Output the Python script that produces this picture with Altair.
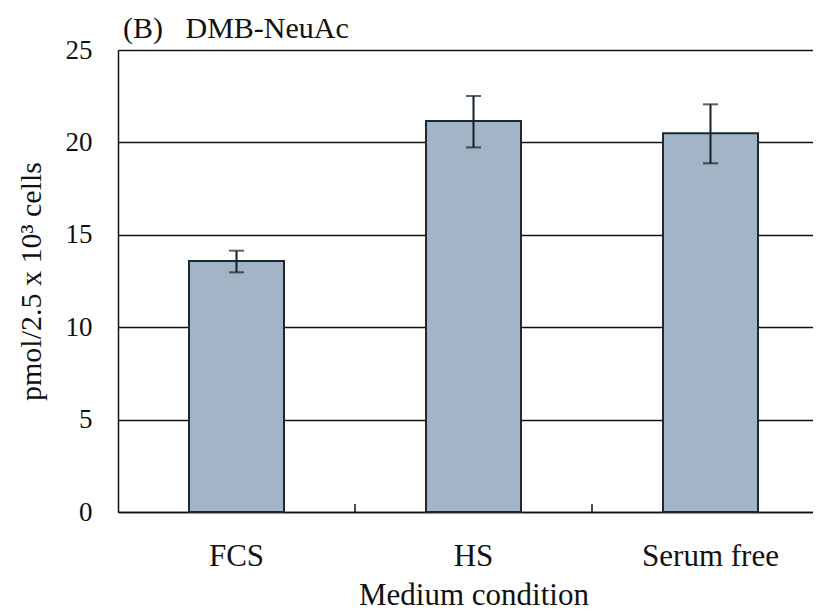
import altair as alt
import pandas as pd

categories = ["FCS", "HS", "Serum free"]
values = [13.58, 21.16, 20.49]
err_low = [12.97, 19.73, 18.87]
err_high = [14.14, 22.51, 22.06]

df = pd.DataFrame({"cat": categories, "val": values, "lo": err_low, "hi": err_high})
df_ticks = pd.DataFrame({"cat": categories[:-1]})

FONT = "Liberation Serif"
xscale = alt.Scale(domain=categories, range=[0, 711], paddingInner=0.6, paddingOuter=0.3)
yscale = alt.Scale(domain=[0, 25], nice=False)

x_enc = alt.X("cat:N", scale=xscale, sort=categories,
              axis=alt.Axis(title="Medium condition", labelAngle=0, ticks=False,
                            labelPadding=29, labelFontSize=31, titleFontSize=31,
                            titleFontWeight="normal", titlePadding=9,
                            labelFont=FONT, titleFont=FONT, labelColor="#111", titleColor="#111",
                            domainColor="#111", domainWidth=1.5, grid=False))

bars = alt.Chart(df).mark_bar(color="#a2b4c6", stroke="#1c2a30", strokeWidth=2, size=95).encode(
    x=x_enc,
    y=alt.Y("val:Q", scale=yscale,
            axis=alt.Axis(title="pmol/2.5 x 10³ cells", values=[0, 5, 10, 15, 20, 25],
                          ticks=False, labelPadding=26, labelFontSize=27, titleFontSize=30,
                          titleFontWeight="normal", titlePadding=19,
                          labelFont=FONT, titleFont=FONT, labelColor="#111", titleColor="#111",
                          domainColor="#111", domainWidth=1.5,
                          grid=True, gridColor="#111", gridWidth=1.5, gridOpacity=1)),
)

err = alt.Chart(df).mark_rule(color="#10202a", strokeWidth=2).encode(
    x=alt.X("cat:N", scale=xscale, sort=categories),
    y=alt.Y("lo:Q", scale=yscale),
    y2="hi:Q",
)
cap_hi = alt.Chart(df).mark_tick(color="#10202a", thickness=2, size=15, orient="horizontal").encode(
    x=alt.X("cat:N", scale=xscale, sort=categories),
    y=alt.Y("hi:Q", scale=yscale),
)
cap_lo = alt.Chart(df).mark_tick(color="#10202a", thickness=2, size=15, orient="horizontal").encode(
    x=alt.X("cat:N", scale=xscale, sort=categories),
    y=alt.Y("lo:Q", scale=yscale),
)
ticks = alt.Chart(df_ticks).mark_rule(color="#111", strokeWidth=1.5, xOffset=118.5, y2Offset=-8).encode(
    x=alt.X("cat:N", scale=xscale, sort=categories),
    y=alt.datum(0, scale=yscale),
    y2=alt.datum(0),
)

chart = alt.layer(bars, err, cap_hi, cap_lo, ticks).properties(
    width=695, height=462,
    autosize=alt.AutoSizeParams(type="none"),
    padding={"left": 110, "top": 42, "right": 0, "bottom": 100},
    title=alt.TitleParams("(B)\u00a0\u00a0 DMB-NeuAc", anchor="start", frame="group", dx=5,
                          fontSize=30, font=FONT, fontWeight="normal", color="#111",
                          baseline="alphabetic", offset=-32),
).configure_view(stroke=None).configure(background="white")

chart.save("out.html", embed_options={"renderer": "svg", "actions": False})
